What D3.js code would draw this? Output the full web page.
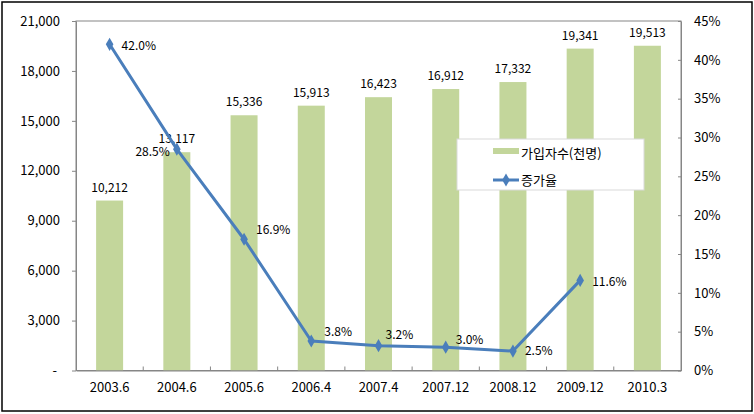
<!DOCTYPE html>
<html><head><meta charset="utf-8">
<script src="https://cdn.jsdelivr.net/npm/d3@7"></script>
<style>body{margin:0;background:#fff}svg{display:block}text{font-family:"Noto Sans CJK KR","Noto Sans",sans-serif;fill:#000}</style>
</head><body><svg id="c" width="754" height="414"></svg>
<script>
const categories = ["2003.6","2004.6","2005.6","2006.4","2007.4","2007.12","2008.12","2009.12","2010.3"];
const subscribers = [10212,13117,15336,15913,16423,16912,17332,19341,19513];
const growth = [42.0,28.5,16.9,3.8,3.2,3.0,2.5,11.6,null];
const leftTicks = [0,3000,6000,9000,12000,15000,18000,21000];
const rightTicks = [0,5,10,15,20,25,30,35,40,45];
const seriesNames = ["가입자수(천명)","증가율"];
// label placement for growth labels: [dx, dy, anchor]
const growthLabelPos = [[12,1,"start"],[-7,3,"end"],[12,-9,"start"],[13,-9,"start"],[7,-11,"start"],[10,-7,"start"],[12,0,"start"],[12,1,"start"]];

const svg = d3.select("#c");
const L = 76, R = 681, T = 21, B = 370.5;
const barColor = "#c3d69b", lineColor = "#4a7ebb", axisColor = "#868686";

svg.append("rect").attr("x",2).attr("y",2).attr("width",750).attr("height",409)
  .attr("fill","#fff").attr("stroke","#000").attr("stroke-width",1.5);

const x = d3.scaleBand().domain(categories).range([L,R]).paddingInner(0.6).paddingOuter(0.3);
const xc = d3.scaleBand().domain(categories).range([L,R]);
const y = d3.scaleLinear().domain([0,21000]).range([B,T]);
const y2 = d3.scaleLinear().domain([0,45]).range([B,T]);

// plot border
svg.append("rect").attr("x",L).attr("y",T).attr("width",R-L).attr("height",B-T)
  .attr("fill","none").attr("stroke",axisColor).attr("stroke-width",1);

// bars
svg.append("g").selectAll("rect").data(subscribers).join("rect")
  .attr("x",(d,i)=>xc(categories[i])+xc.bandwidth()/2-13.5)
  .attr("width",27)
  .attr("y",d=>y(d)).attr("height",d=>B-y(d)).attr("fill",barColor);

// bar labels
svg.append("g").selectAll("text").data(subscribers).join("text")
  .attr("x",(d,i)=>xc(categories[i])+xc.bandwidth()/2)
  .attr("y",d=>y(d)-9).attr("text-anchor","middle").attr("font-size",12)
  .text(d=>d3.format(",")(d));

// left axis
const fmtL = d => d===0 ? "-" : d3.format(",")(d);
const gL = svg.append("g").attr("transform",`translate(${L},0)`)
  .call(d3.axisLeft(y).tickValues(leftTicks).tickFormat(fmtL).tickSizeInner(4).tickSizeOuter(0).tickPadding(12));
gL.select(".domain").attr("stroke",axisColor);
gL.selectAll(".tick line").attr("stroke",axisColor);
gL.selectAll("text").attr("font-size",13).style("font-family",'"Noto Sans CJK KR","Noto Sans",sans-serif');
gL.selectAll(".tick text").filter(d=>d===0).attr("dx",-3);

// right axis (ticks inward)
const gR = svg.append("g").attr("transform",`translate(${R},0)`)
  .call(d3.axisRight(y2).tickValues(rightTicks).tickFormat(d=>d+"%").tickSizeInner(-3).tickSizeOuter(0).tickPadding(13));
gR.select(".domain").attr("stroke",axisColor);
gR.selectAll(".tick line").attr("stroke",axisColor);
gR.selectAll("text").attr("font-size",13).style("font-family",'"Noto Sans CJK KR","Noto Sans",sans-serif');

// bottom axis (ticks at boundaries, inward)
const gB = svg.append("g").attr("transform",`translate(0,${B})`);
gB.call(d3.axisBottom(xc).tickSize(0).tickPadding(12));
gB.select(".domain").attr("stroke",axisColor);
gB.selectAll("text").attr("font-size",13).style("font-family",'"Noto Sans CJK KR","Noto Sans",sans-serif');
gB.selectAll(".bnd").data(categories.slice(1)).join("line").attr("class","bnd")
  .attr("x1",d=>xc(d)).attr("x2",d=>xc(d)).attr("y1",0).attr("y2",-4).attr("stroke",axisColor);

// line
const pts = growth.map((g,i)=>({g,i})).filter(p=>p.g!==null);
const line = d3.line().x(p=>xc(categories[p.i])+xc.bandwidth()/2).y(p=>y2(p.g));
svg.append("path").datum(pts).attr("d",line).attr("fill","none")
  .attr("stroke",lineColor).attr("stroke-width",3).attr("stroke-linejoin","round");
const diamond = d3.symbol().type(d3.symbolDiamond).size(50);
svg.append("g").selectAll("path").data(pts).join("path")
  .attr("d",diamond)
  .attr("transform",p=>`translate(${xc(categories[p.i])+xc.bandwidth()/2},${y2(p.g)})`)
  .attr("fill",lineColor);
svg.append("g").selectAll("text").data(pts).join("text")
  .attr("x",p=>xc(categories[p.i])+xc.bandwidth()/2+growthLabelPos[p.i][0])
  .attr("y",p=>y2(p.g)+growthLabelPos[p.i][1])
  .attr("dy","0.35em").attr("text-anchor",p=>growthLabelPos[p.i][2]).attr("font-size",12)
  .text(p=>p.g.toFixed(1)+"%");

// legend
const lg = svg.append("g");
lg.append("rect").attr("x",457).attr("y",139).attr("width",187).attr("height",51)
  .attr("fill","#fff").attr("stroke","#d9d9d9");
lg.append("rect").attr("x",493).attr("y",148).attr("width",26).attr("height",6).attr("fill",barColor);
lg.append("text").attr("x",521).attr("y",153).attr("dy","0.35em").attr("font-size",13).text(seriesNames[0]);
lg.append("line").attr("x1",493).attr("x2",519).attr("y1",180).attr("y2",180).attr("stroke",lineColor).attr("stroke-width",3);
lg.append("path").attr("d",diamond).attr("transform","translate(506,180)").attr("fill",lineColor);
lg.append("text").attr("x",521).attr("y",180).attr("dy","0.35em").attr("font-size",13).text(seriesNames[1]);
</script></body></html>
